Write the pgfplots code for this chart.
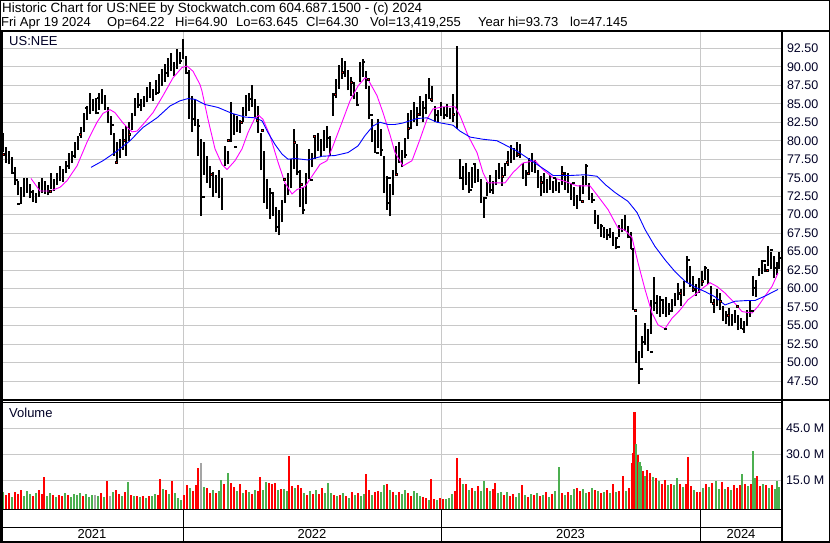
\documentclass[border=0pt]{standalone}
\usepackage{pgfplots}
\pgfplotsset{compat=1.18}
\usepackage{pgfplotstable}
\usepackage{fontspec}
\setmainfont{Liberation Sans}
\definecolor{gridgray}{RGB}{200,200,200}
\definecolor{vred}{RGB}{255,0,0}
\definecolor{vgreen}{RGB}{76,175,80}
\definecolor{vgray}{RGB}{165,165,165}
\definecolor{mag}{RGB}{255,0,255}
\definecolor{mablue}{RGB}{0,0,255}

\pgfplotstableread{
x h l
3 81.0 78.5
6 79.2 77.0
9 78.6 76.8
12 77.8 75.6
15 76.4 74.0
18 74.6 72.6
21 73.8 71.4
24 74.9 72.4
27 75.0 73.0
30 74.2 72.2
33 73.4 71.7
36 73.0 71.6
39 74.4 72.4
42 75.0 73.0
45 74.6 72.8
48 74.0 72.6
51 75.7 73.5
54 74.8 73.2
57 75.6 74.0
60 76.6 74.5
63 76.2 74.4
66 77.2 75.6
69 78.4 76.2
72 78.6 77.0
75 79.8 77.6
78 80.7 78.8
81 81.8 80.4
84 83.8 81.2
87 84.7 82.8
90 86.4 83.6
93 85.6 84.0
96 85.8 83.6
99 86.4 84.2
102 87.0 85.0
105 86.2 84.2
108 84.6 82.4
111 83.4 80.8
114 81.0 78.0
117 79.8 76.9
120 80.2 77.6
123 81.6 78.8
126 82.0 78.0
129 82.6 80.0
132 83.8 81.4
135 85.8 83.4
138 86.4 84.4
141 85.6 84.0
144 86.0 84.6
147 87.2 85.2
150 87.9 85.8
153 87.0 85.4
156 88.2 86.2
159 89.0 86.4
162 89.7 87.4
165 90.4 88.0
168 91.2 88.6
171 91.9 89.4
174 90.6 88.8
177 92.4 89.7
180 92.0 90.4
183 93.8 91.0
186 91.4 89.0
189 89.6 83.0
192 86.0 81.2
195 85.6 82.0
198 83.0 78.0
201 80.2 69.8
204 79.8 75.4
207 78.0 74.3
210 76.6 73.6
213 75.8 72.4
216 75.4 73.0
219 76.0 72.2
222 75.0 70.7
225 79.3 76.6
228 78.6 76.8
231 85.2 79.8
234 83.6 80.8
237 83.4 81.2
240 82.8 81.1
243 84.6 82.6
246 86.2 83.4
249 86.4 84.0
252 87.5 84.6
255 85.6 83.2
258 84.7 81.1
261 81.1 76.0
264 78.6 71.6
267 74.8 70.8
270 73.6 69.4
273 73.0 69.8
276 71.0 67.6
279 70.6 67.2
282 72.0 69.0
285 74.2 71.6
288 75.6 72.6
291 77.5 73.6
294 81.6 76.2
297 79.6 75.3
300 76.1 71.0
303 73.8 70.1
306 75.6 71.4
309 78.9 74.8
312 78.4 76.4
315 80.4 77.5
318 81.1 78.6
321 80.2 77.8
324 81.4 78.6
327 82.0 79.0
330 80.6 78.0
333 86.5 83.4
336 88.4 85.8
339 90.2 87.0
342 91.2 88.4
345 90.8 88.6
348 89.6 86.8
351 88.6 86.0
354 87.9 85.6
357 86.6 84.7
360 90.6 87.9
363 91.1 88.6
366 89.4 87.0
369 87.4 82.9
372 82.9 79.8
375 81.4 78.4
378 82.9 79.0
381 81.6 78.0
384 78.0 73.0
387 75.2 70.7
390 74.2 69.8
393 76.0 72.6
396 79.3 75.3
399 79.8 77.0
402 78.8 76.4
405 80.4 77.6
408 83.8 80.2
411 84.2 81.6
414 85.2 82.6
417 84.6 82.0
420 86.0 83.4
423 85.4 82.5
426 86.3 83.6
429 88.5 85.6
432 87.4 85.2
435 84.7 82.5
438 84.2 82.6
441 85.2 83.4
444 84.6 82.9
447 85.0 83.2
450 84.4 82.9
453 86.3 82.5
457 92.8 81.6
460 77.5 74.8
463 76.6 73.4
466 77.0 74.0
469 75.8 73.0
472 76.4 73.6
475 77.0 74.3
478 76.2 74.4
481 74.8 71.6
484 72.4 69.6
487 74.4 72.5
490 75.3 73.0
493 74.6 72.8
496 76.0 74.0
499 77.0 74.8
502 76.4 73.9
505 77.0 75.2
508 78.6 76.6
511 79.4 77.0
514 79.0 77.4
517 79.8 77.8
520 79.6 77.6
523 77.0 74.8
526 76.0 73.9
529 77.6 75.3
532 78.4 75.8
535 77.4 75.6
538 76.1 73.6
541 75.2 72.5
544 75.6 73.0
547 74.8 73.0
550 75.3 73.4
553 74.6 73.0
556 75.0 73.2
559 74.4 73.0
562 76.6 74.0
565 75.8 73.4
568 75.6 73.0
571 74.3 72.0
574 73.8 71.2
577 72.6 70.8
580 74.0 71.8
583 75.2 72.8
586 76.8 74.0
589 74.3 72.0
592 73.0 71.6
595 70.7 68.8
598 70.0 68.0
601 68.7 67.0
604 68.4 66.8
607 68.0 66.6
610 68.2 66.8
613 67.6 65.8
616 66.8 65.3
619 68.6 67.0
622 69.4 67.6
625 70.0 67.8
628 68.5 66.8
631 67.6 65.3
633 65.3 57.1
636 56.4 50.0
639 51.6 47.1
642 53.6 50.6
645 55.3 52.4
648 54.6 51.6
651 58.4 53.9
654 61.6 57.0
657 59.2 56.6
660 59.0 56.2
663 58.4 56.6
666 58.9 56.2
669 58.0 56.4
672 58.6 56.8
675 59.4 57.6
678 60.8 58.4
681 60.0 57.6
684 61.0 59.0
687 64.4 60.8
690 63.0 60.2
693 61.7 59.6
696 60.6 59.0
699 61.4 59.4
702 62.4 60.3
705 63.0 61.2
708 62.6 60.6
711 60.3 58.0
714 58.6 56.7
717 59.9 57.6
720 59.4 57.1
723 57.6 55.6
726 57.0 55.2
729 57.4 54.9
732 56.6 55.0
735 57.1 55.4
738 56.4 54.4
741 56.0 54.6
744 55.6 54.0
747 57.1 55.0
750 58.5 56.2
753 61.7 59.0
756 61.2 58.9
759 62.8 61.7
762 63.9 62.0
765 63.4 62.2
768 65.7 63.0
771 65.0 62.6
774 64.4 61.4
777 63.6 61.8
779 64.9 62.6
}\pricetab

\pgfplotstableread{
x y
3 78.2
12 75.7
16 74.7
18 71.5
31 73.1
50 73.2
68 76.6
73 78.0
80 80.9
86 84.5
97 83.8
98 85.8
112 82.2
116 77.1
124 80.1
129 80.9
139 84.9
157 86.5
165 89.2
180 90.8
187 89.2
194 83.0
198 82.0
203 72.4
211 75.5
228 80.1
235 79.2
241 82.5
249 85.7
257 82.8
262 81.4
272 73.0
277 68.4
284 74.8
294 79.8
298 75.8
301 74.1
303 70.7
311 74.7
314 80.6
328 80.4
335 86.3
342 89.3
351 87.9
357 84.9
363 90.7
368 88.3
371 83.5
377 78.4
381 78.8
387 71.6
389 75.0
396 75.5
405 78.1
408 81.7
418 83.6
423 84.5
431 85.6
435 83.5
445 83.5
453 83.6
461 75.0
470 73.4
474 76.9
485 72.3
492 73.4
502 75.2
507 77.1
518 78.2
528 75.6
541 74.4
554 75.0
562 75.6
573 74.3
582 71.8
586 76.6
593 72.0
601 68.5
609 67.3
616 66.9
618 65.7
628 67.0
632 65.4
635 57.1
641 49.2
644 52.8
651 51.5
654 58.1
662 58.5
665 54.6
671 57.0
680 59.4
688 63.9
693 59.9
702 61.0
705 62.8
713 58.0
720 58.3
728 56.4
737 57.6
743 54.6
752 57.0
755 60.1
764 63.8
767 62.5
771 65.3
776 62.8
779 64.2
}\reddots

\pgfplotstableread{
x v
6 6.5
9 7.6
15 8.4
18 7.0
21 9.2
33 6.0
39 9.4
42 7.0
44 17.0
53 6.6
59 6.8
62 5.8
68 6.4
83 6.0
101 7.6
107 14.6
116 9.4
119 7.0
125 8.4
131 6.6
137 6.2
143 6.0
149 6.2
158 6.4
160 15.7
166 9.6
172 14.6
184 6.8
187 12.0
193 8.6
196 12.4
198 22.0
207 10.6
210 7.4
216 7.8
224 12.8
231 13.6
234 11.0
240 13.0
246 9.6
252 7.2
258 8.6
260 16.8
269 13.4
272 12.6
275 13.2
281 10.2
289 29.0
292 11.6
298 12.4
301 10.8
307 6.4
313 7.0
319 7.0
322 10.4
334 6.4
340 6.6
346 5.8
352 8.2
358 7.4
366 18.6
369 9.6
375 8.0
378 9.0
387 12.6
393 8.0
399 8.4
408 7.6
411 6.0
423 5.4
426 4.6
431 15.7
434 4.4
440 4.6
443 4.0
455 8.8
457 28.0
460 16.4
466 12.6
472 10.4
478 11.6
487 10.4
493 9.8
495 13.5
504 6.8
510 6.0
513 7.0
522 12.0
528 5.4
534 6.4
540 5.8
546 8.0
552 7.2
562 7.8
568 8.2
577 10.4
580 8.6
589 8.2
595 9.4
601 7.6
607 9.6
613 12.6
619 9.0
623 17.3
629 10.6
632 24.8
633 30.6
634.4 54.6
637.4 29.6
643 20.4
647 21.0
650 19.0
656 16.6
662 13.0
665 15.2
671 13.0
680 12.6
686 12.6
688 28.6
691 11.6
697 8.0
700 8.4
706 12.6
712 13.4
722 14.1
728 11.0
734 12.4
737 10.6
740 12.0
745 13.0
751 12.6
757 17.3
760 11.6
766 12.0
772 12.0
}\volred

\pgfplotstableread{
x v
3 8.0
12 5.6
24 6.2
27 8.8
30 7.2
36 7.4
47 6.2
50 7.8
56 5.4
65 7.6
71 5.2
74 7.0
77 6.4
80 7.8
86 7.2
89 5.6
92 6.8
98 5.8
104 5.4
113 8.4
122 6.0
128 13.8
134 5.8
140 5.4
146 5.0
152 5.8
155 7.2
163 10.2
169 7.0
175 7.6
178 4.6
181 3.4
190 10.8
204 11.4
213 9.6
219 8.8
221 15.3
228 19.2
237 8.6
243 7.6
249 8.0
255 9.4
263 9.6
266 14.0
278 9.6
284 9.8
287 8.6
295 10.4
304 7.6
310 8.6
316 9.4
325 7.4
328 13.3
331 7.6
337 6.0
343 7.4
349 4.8
355 6.4
361 6.0
364 7.2
372 6.4
381 8.4
384 12.0
390 9.6
396 6.4
402 7.0
405 9.2
414 8.8
417 7.4
420 6.0
429 3.6
437 3.8
446 4.2
449 5.0
452 7.0
463 12.6
469 9.6
475 9.0
481 9.0
484 14.8
490 8.8
498 7.8
501 8.4
507 8.2
516 5.6
519 7.4
525 6.4
531 7.0
537 7.6
543 6.8
549 5.4
555 8.6
559 22.9
565 6.6
571 6.4
574 9.8
583 9.8
586 7.6
592 10.8
598 8.8
604 8.4
610 7.4
616 8.4
626 8.6
636 35.8
639.3 25.7
641 23.0
645 17.4
653 17.0
659 14.6
668 12.0
674 12.4
677 16.3
683 11.4
694 9.4
703 10.4
709 11.0
716 14.6
719 10.0
725 10.0
731 9.4
742 18.6
748 11.6
753 31.9
755 16.4
763 13.0
769 10.6
775 9.8
777 14.6
779 11.0
}\volgreen

\pgfplotstableread{
x v
95 6.4
110 6.2
201 25.0
}\volgray

\begin{document}
\begin{tikzpicture}
\path[use as bounding box] (0pt,0pt) rectangle (830pt,543pt);
\fill[white] (0pt,0pt) rectangle (830pt,543pt);

% price panel
\begin{axis}[at={(3pt,143pt)}, anchor=south west, scale only axis,
  width=778pt, height=368pt,
  xmin=3, xmax=781, ymin=44.944, ymax=94.704,
  axis line style={draw=none}, tick style={draw=none},
  major tick length=0pt,
  xtick={183.3,441.3,700.7}, xticklabels={}, xmajorgrids,
  ytick={47.5,50,52.5,55,57.5,60,62.5,65,67.5,70,72.5,75,77.5,80,82.5,85,87.5,90,92.5},
  ymajorgrids,
  grid style={gridgray, line width=1pt},
  yticklabel pos=right,
  /pgf/number format/assume math mode=true,
  yticklabel style={anchor=west, xshift=2.5pt, text=black!85!blue,
    font=\fontsize{12.5}{13}\selectfont,
    /pgf/number format/fixed, /pgf/number format/fixed zerofill,
    /pgf/number format/precision=2},
]
\addplot[black, line width=2.9pt, quiver={u=0, v=\thisrow{h}-\thisrow{l}}]
  table[x=x, y=l] {\pricetab};
\addplot[only marks, mark=square*, mark size=0.75pt, mark options={draw=none, fill=red}]
  table[x=x, y=y] {\reddots};
\addplot[mag, line width=0.9pt] coordinates {
(31,74.9)(40,73.2)(50,73.2)(60,73.7)(67,74.6)(77,76.6)(87,79.8)(97,82.5)(103,83.7)(110,84.2)(115,83.8)(123,82.4)(132,81.2)(137,81.3)(143,82.2)(153,83.8)(163,86.1)(173,88.5)(182,89.9)(187,90.1)(193,89.4)(200,87.6)(202,86.7)(208,82.9)(215,78.9)(222,76.8)(227,76.1)(235,77.3)(242,78.9)(248,81.1)(255,83.1)(259,83.4)(263,82.9)(270,80.7)(278,77.1)(285,74.3)(292,72.8)(297,73.4)(305,73.8)(312,75.2)(320,76.8)(327,77.3)(333,79.3)(342,82.5)(350,85.4)(358,87.4)(365,88.5)(368,88.3)(377,86.1)(383,83.8)(390,80.8)(395,78.4)(403,76.6)(412,77.3)(420,80.2)(427,82.9)(433,84.3)(443,84.6)(455,84.6)(460,83.4)(468,80.7)(477,78.4)(483,75.7)(488,74.3)(497,74.3)(505,74.3)(513,75.7)(523,77.0)(535,77.3)(543,76.1)(553,75.0)(563,74.6)(577,73.9)(590,73.9)(598,72.5)(608,70.7)(618,68.2)(625,67.9)(632,66.9)(638,63.5)(645,59.9)(652,56.7)(658,55.1)(665,54.6)(672,56.0)(680,57.1)(688,58.5)(697,59.4)(703,60.1)(710,60.8)(717,60.3)(725,59.4)(735,58.0)(742,56.9)(752,56.7)(758,57.6)(765,59.0)(772,60.3)(778,62.1)};
\addplot[mablue, line width=0.9pt] coordinates {
(91,76.4)(103,77.3)(117,78.6)(130,80.0)(143,81.8)(157,83.1)(170,84.7)(180,85.4)(188,85.7)(195,85.6)(205,84.9)(218,84.5)(232,83.7)(245,83.2)(255,83.1)(262,82.7)(268,81.1)(275,79.5)(282,78.2)(288,77.5)(295,77.6)(308,77.4)(322,77.9)(335,78.0)(348,78.4)(358,79.3)(365,80.7)(373,82.0)(380,82.5)(388,82.2)(395,82.2)(403,82.4)(417,83.0)(427,83.1)(437,82.5)(453,82.1)(460,81.3)(470,80.5)(483,80.2)(497,80.0)(507,79.3)(517,78.6)(527,77.7)(537,76.8)(547,75.9)(553,75.3)(570,75.3)(585,75.4)(597,75.2)(605,74.1)(615,73.0)(628,71.8)(637,70.3)(645,68.0)(655,65.7)(665,63.9)(675,62.3)(685,61.0)(695,60.2)(705,59.6)(715,58.9)(725,57.8)(735,58.3)(748,58.4)(755,58.4)(765,59.0)(778,59.9)};
\end{axis}

% volume panel
\begin{axis}[at={(3pt,34pt)}, anchor=south west, scale only axis,
  width=778pt, height=107pt,
  xmin=3, xmax=781, ymin=-1.56, ymax=60.17,
  axis line style={draw=none}, tick style={draw=none},
  major tick length=0pt,
  xtick={183.3,441.3,700.7}, xticklabels={}, xmajorgrids,
  ytick={15,30,45}, yticklabels={15.0 M,30.0 M,45.0 M},
  ymajorgrids,
  grid style={gridgray, line width=1pt},
  yticklabel pos=right,
  yticklabel style={anchor=west, xshift=1.5pt, text=black!85!blue,
    font=\fontsize{12.5}{13}\selectfont},
]
\addplot[vred, line width=2.8pt, quiver={u=0, v=\thisrow{v}+1.56}]
  table[x=x, y expr=-1.56] {\volred};
\addplot[vgreen, line width=2.8pt, quiver={u=0, v=\thisrow{v}+1.56}]
  table[x=x, y expr=-1.56] {\volgreen};
\addplot[vgray, line width=2.8pt, quiver={u=0, v=\thisrow{v}+1.56}]
  table[x=x, y expr=-1.56] {\volgray};
\end{axis}

% frame lines
\draw[line width=1pt] (0.5pt,0.5pt) rectangle (829.5pt,542.5pt);
\draw[line width=2pt] (0pt,511.5pt) -- (830pt,511.5pt);
\draw[line width=3pt] (1.5pt,0pt) -- (1.5pt,512pt);
\draw[line width=1.8pt] (781.9pt,0pt) -- (781.9pt,512pt);
\draw[line width=1.2pt] (0pt,143pt) -- (830pt,143pt);
\draw[line width=1.2pt] (0pt,140.6pt) -- (781pt,140.6pt);
\draw[line width=1.5pt] (0pt,33.4pt) -- (781pt,33.4pt);
\draw[line width=1.5pt] (0pt,15.6pt) -- (781pt,15.6pt);
\draw[line width=2pt] (0pt,1pt) -- (830pt,1pt);
\foreach \xx in {183.3,441.3,700.7} \draw[line width=1pt] (\xx pt,1pt) -- (\xx pt,33.4pt);

% texts
\node[anchor=base west, inner sep=0pt, font=\fontsize{13.4}{13}\selectfont] at (2pt,530pt)
  {Historic Chart for US:NEE by Stockwatch.com 604.687.1500 - (c) 2024};
\begin{scope}[every node/.style={anchor=base west, inner sep=0pt, font=\fontsize{13}{13}\selectfont}]
\node at (1pt,516pt) {Fri Apr 19 2024};
\node at (107pt,516pt) {Op=64.22};
\node at (175pt,516pt) {Hi=64.90};
\node at (236pt,516pt) {Lo=63.645};
\node at (306pt,516pt) {Cl=64.30};
\node at (370pt,516pt) {Vol=13,419,255};
\node at (478pt,516pt) {Year hi=93.73};
\node at (570pt,516pt) {lo=47.145};
\end{scope}
\node[anchor=base west, inner sep=0pt, font=\fontsize{13}{13}\selectfont, text=black!85!blue] at (9pt,497pt) {US:NEE};
\node[anchor=base west, inner sep=0pt, font=\fontsize{13}{13}\selectfont, text=black!85!blue] at (9pt,125pt) {Volume};
\begin{scope}[every node/.style={anchor=base, inner sep=0pt, font=\fontsize{13}{13}\selectfont}]
\node at (92pt,4.5pt) {2021};
\node at (312pt,4.5pt) {2022};
\node at (570.5pt,4.5pt) {2023};
\node at (741pt,4.5pt) {2024};
\end{scope}
\end{tikzpicture}
\end{document}
